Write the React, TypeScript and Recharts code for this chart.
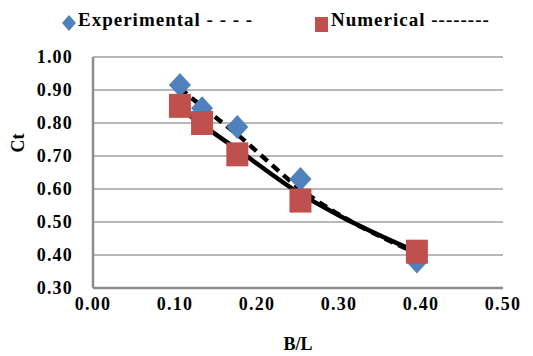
import { ComposedChart, Scatter, Line, XAxis, YAxis, CartesianGrid } from 'recharts';

// B/L values and Ct readings
const blValues = [0.106, 0.133, 0.176, 0.253, 0.395];
const experimentalCt = [0.915, 0.845, 0.788, 0.63, 0.38];
const numericalCt = [0.852, 0.8, 0.705, 0.565, 0.41];

// trend curves
const expTrendX = [0.106, 0.133, 0.176, 0.253, 0.395];
const expTrendY = [0.905, 0.85, 0.765, 0.6, 0.405];
const numTrendX = [0.106, 0.133, 0.176, 0.253, 0.3, 0.398];
const numTrendY = [0.845, 0.795, 0.72, 0.585, 0.52, 0.406];

const xTicks = [0, 0.1, 0.2, 0.3, 0.4, 0.5];
const yTicks = [0.3, 0.4, 0.5, 0.6, 0.7, 0.8, 0.9, 1.0];

const BLUE = '#4f81bd';
const RED = '#c0504d';
const FONT = 'Liberation Serif, DejaVu Serif, Noto Serif, serif';

const expData = blValues.map((x, i) => ({ x, y: experimentalCt[i] }));
const numData = blValues.map((x, i) => ({ x, y: numericalCt[i] }));
const expTrend = expTrendX.map((x, i) => ({ x, y: expTrendY[i] }));
const numTrend = numTrendX.map((x, i) => ({ x, y: numTrendY[i] }));

const tickStyle = { fontFamily: FONT, fontSize: 18, fontWeight: 'bold', fill: '#000', letterSpacing: 1.2 };
const labelStyle = { fontFamily: FONT, fontSize: 18, fontWeight: 'bold', fill: '#000' };

const Diamond = (props: any) => {
  const { cx, cy } = props;
  return <path d={`M${cx},${cy - 12} L${cx + 11},${cy} L${cx},${cy + 12} L${cx - 11},${cy} Z`} fill={BLUE} />;
};

const Square = (props: any) => {
  const { cx, cy } = props;
  return <rect x={cx - 11} y={cy - 12} width={22} height={24} fill={RED} />;
};

const legendText = { fontFamily: FONT, fontSize: 19, fontWeight: 'bold' as const, letterSpacing: 1, position: 'absolute' as const, top: 9, lineHeight: '22px', whiteSpace: 'pre' as const };

export default function App() {
  return (
    <div style={{ position: 'relative', width: 533, height: 356, background: '#fff', fontFamily: FONT }}>
      <style>{`body{margin:0}`}</style>
      <svg style={{ position: 'absolute', left: 61, top: 14 }} width={16} height={18}>
        <path d="M8,1 L15,9 L8,17 L1,9 Z" fill={BLUE} />
      </svg>
      <span style={{ ...legendText, left: 78 }}>Experimental - - - -</span>
      <div style={{ position: 'absolute', left: 315, top: 17, width: 13, height: 15, background: RED }} />
      <span style={{ ...legendText, left: 331 }}>Numerical --------</span>
      <ComposedChart width={533} height={356} margin={{ top: 57, right: 30, left: 0, bottom: 0 }}>
        <CartesianGrid vertical={false} stroke="#a0a0a0" strokeWidth={1.5} />
        <XAxis
          type="number"
          dataKey="x"
          domain={[0, 0.5]}
          ticks={xTicks}
          tickFormatter={(v: number) => v.toFixed(2)}
          height={68}
          tickLine={false}
          tickSize={0}
          tickMargin={9}
          stroke="#8c8c8c"
          strokeWidth={2.5}
          tick={tickStyle}
          label={{ value: 'B/L', position: 'insideBottom', offset: 6, style: labelStyle }}
        />
        <YAxis
          type="number"
          dataKey="y"
          domain={[0.3, 1.0]}
          ticks={yTicks}
          tickFormatter={(v: number) => v.toFixed(2)}
          width={93}
          tickLine={false}
          tickSize={0}
          tickMargin={20}
          stroke="#8c8c8c"
          strokeWidth={2.5}
          tick={tickStyle}
          label={{ value: 'Ct', angle: -90, position: 'insideLeft', offset: 18, dy: -20, style: labelStyle }}
        />
        <Scatter data={expData} shape={Diamond} isAnimationActive={false} />
        <Scatter data={numData} shape={Square} isAnimationActive={false} />
        <Line data={expTrend} dataKey="y" type="monotone" stroke="#000" strokeWidth={4.5} strokeDasharray="9 6" dot={false} isAnimationActive={false} />
        <Line data={numTrend} dataKey="y" type="monotone" stroke="#000" strokeWidth={4.5} dot={false} isAnimationActive={false} />
      </ComposedChart>
    </div>
  );
}
